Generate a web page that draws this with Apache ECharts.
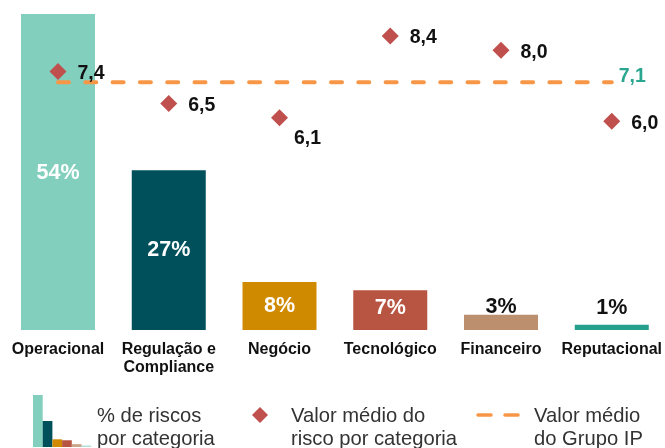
<!DOCTYPE html>
<html><head><meta charset="utf-8">
<style>html,body{margin:0;padding:0;background:#fff}#c{width:665px;height:448px}</style>
<script src="https://cdn.jsdelivr.net/npm/echarts@6/dist/echarts.min.js"></script></head>
<body><div id="c"></div>
<script>
const categories = ['Operacional','Regulação e\nCompliance','Negócio','Tecnológico','Financeiro','Reputacional'];
const shareValues = [54, 27.3, 8.2, 6.8, 2.6, 0.9];
const shareLabels = ['54%','27%','8%','7%','3%','1%'];
const barColors = ['#83CFBE','#00505C','#D08A00','#B85542','#BC8F6F','#25A08C'];
const riskValues = [7.4, 6.5, 6.1, 8.4, 8.0, 6.0];
const groupAverage = [7.1, 7.1, 7.1, 7.1, 7.1, 7.1];
const legendIconBars = [54, 27, 8, 7, 3, 1];
const FONT = '"Liberation Sans", Arial, sans-serif';
const fmt = v => v.toFixed(1).replace('.', ',');

const iconX = 33, iconBase = 447, iconW = 9.7, iconScale = 52/54;
const legendGraphics = legendIconBars.map((v,i)=>({
  type:'rect', silent:true,
  shape:{x:iconX+i*iconW,y:iconBase-Math.max(v*iconScale,1.5),width:iconW,height:Math.max(v*iconScale,1.5)},
  style:{fill:barColors[i], opacity: i===5?0.35:(i===4?0.8:1)}
}));
const legendText = (x,text)=>({type:'text',left:x,top:405,silent:true,
  style:{text,font:'20.2px '+FONT,fill:'#333',lineHeight:23}});
legendGraphics.push(
  legendText(97,'% de riscos\npor categoria'),
  {type:'polygon',silent:true,shape:{points:[[260,407],[268,415],[260,423],[252,415]]},style:{fill:'#C0504D'}},
  legendText(291,'Valor médio do\nrisco por categoria'),
  {type:'line',silent:true,shape:{x1:478,y1:415,x2:491,y2:415},style:{stroke:'#F79646',lineWidth:3.5,lineCap:'round'}},
  {type:'line',silent:true,shape:{x1:505,y1:415,x2:518,y2:415},style:{stroke:'#F79646',lineWidth:3.5,lineCap:'round'}},
  legendText(534,'Valor médio\ndo Grupo IP')
);

const chart = echarts.init(document.getElementById('c'),null,{renderer:'canvas'});
chart.setOption({
  animation:false,
  backgroundColor:'#fff',
  grid:{left:58,width:555,top:14,height:316,containLabel:false},
  xAxis:{type:'category',boundaryGap:false,data:categories,axisLine:{show:false},axisTick:{show:false},
    axisLabel:{interval:0,margin:11,fontFamily:FONT,fontWeight:'bold',fontSize:16,color:'#111',lineHeight:18,hideOverlap:false,alignMinLabel:'center',alignMaxLabel:'center'}},
  yAxis:[
    {type:'value',min:0,max:54,show:false,splitLine:{show:false}},
    {type:'value',min:0.12,max:9.02,show:false,splitLine:{show:false}}
  ],
  graphic:legendGraphics,
  series:[
    {name:'% de riscos por categoria',type:'bar',yAxisIndex:0,barWidth:74,z:1,
     data:shareValues.map((v,i)=>{
       const small = i>=4;
       return {value:v,itemStyle:{color:barColors[i]},
         label:{show:true,formatter:shareLabels[i],position:small?'top':'inside',distance:small?(i===4?-3:6):0,
           offset:i===3?[0,-2]:(i===0?[0,1]:[0,0]),
           color:small?'#111':'#fff',fontFamily:FONT,fontWeight:'bold',fontSize:21.5}};
     })},
    {name:'Valor médio do Grupo IP',type:'line',yAxisIndex:1,data:groupAverage,symbol:'none',z:3,
     lineStyle:{color:'#F79646',width:4,type:[11,16.3],cap:'round'},
     label:{show:false},
     endLabel:{show:true,formatter:p=>fmt(p.value),distance:7,color:'#2AA58F',fontFamily:FONT,fontWeight:'bold',fontSize:19.5,offset:[0,-6]}},
    {name:'Valor médio do risco por categoria',type:'scatter',yAxisIndex:1,symbol:'diamond',symbolSize:17,z:4,
     itemStyle:{color:'#C0504D',opacity:1},
     data:riskValues.map((v,i)=>({value:v,label:{show:true,position:'right',distance:11,
       offset:i===2?[-5,21]:[0,2],
       formatter:p=>fmt(p.value),color:'#111',fontFamily:FONT,fontWeight:'bold',fontSize:19.5}}))}
  ]
});
</script></body></html>
